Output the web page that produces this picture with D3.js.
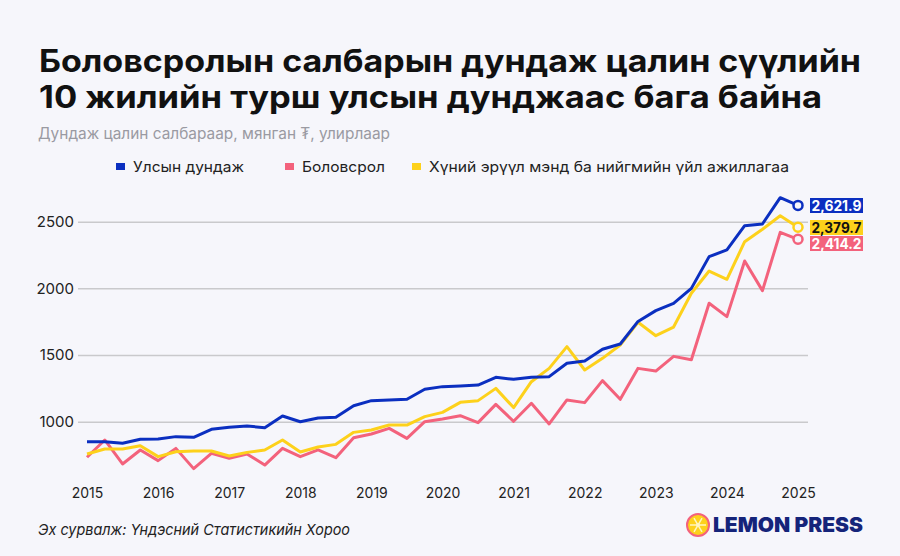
<!DOCTYPE html>
<html>
<head>
<meta charset="utf-8">
<script src="https://cdn.jsdelivr.net/npm/d3@7"></script>
<style>
  body { margin: 0; background: #f6f6fb; }
  svg { display: block; font-family: Inter, Roboto, "Noto Sans", sans-serif; }
</style>
</head>
<body>
<div id="chart"></div>
<script>
// quarterly averages, 2015 Q1 .. 2025 Q1 (thousand ₮)
const quarters = d3.range(41).map(i => 2015 + i / 4);

const national = [850, 850, 838, 868, 870, 888, 883, 943, 958, 968, 955, 1043, 1000, 1028, 1033,
  1120, 1158, 1163, 1168, 1243, 1263, 1268, 1275, 1333, 1318, 1334, 1338, 1438, 1455, 1543, 1583,
  1752, 1833, 1888, 2000, 2238, 2288, 2470, 2483, 2680, 2622];

const education = [733, 863, 683, 788, 708, 800, 648, 763, 725, 758, 675, 800, 738, 788, 730,
  880, 908, 950, 875, 1000, 1020, 1045, 993, 1130, 1003, 1138, 983, 1163, 1143, 1308, 1168,
  1400, 1380, 1490, 1465, 1888, 1788, 2205, 1983, 2420, 2368];

const health = [758, 795, 795, 820, 738, 775, 780, 780, 743, 770, 788, 863, 773, 810, 830,
  920, 938, 975, 975, 1038, 1070, 1145, 1158, 1250, 1106, 1300, 1400, 1563, 1388, 1475, 1575,
  1746, 1645, 1710, 1963, 2130, 2068, 2350, 2443, 2545, 2458];

const seriesNames = ["Улсын дундаж", "Боловсрол", "Хүний эрүүл мэнд ба нийгмийн үйл ажиллагаа"];
const endLabels = ["2,621.9", "2,414.2", "2,379.7"];
const yearTicks = d3.range(2015, 2026);
const yTicks = [1000, 1500, 2000, 2500];

const colors = ["#0b2fc0", "#f3627c", "#fdd11b"];
const labelText = ["#fff", "#fff", "#111"];

const W = 900, H = 556;
const svg = d3.select("#chart").append("svg")
  .attr("width", W).attr("height", H);

svg.append("rect").attr("width", W).attr("height", H).attr("fill", "#f6f6fb");

// title
const title = svg.append("text")
  .attr("font-size", 31).attr("font-weight", 700).attr("fill", "#111");
title.append("tspan").attr("x", 39).attr("y", 72)
  .attr("textLength", 822).attr("lengthAdjust", "spacingAndGlyphs")
  .text("Боловсролын салбарын дундаж цалин сүүлийн");
title.append("tspan").attr("x", 39).attr("y", 108)
  .attr("textLength", 783).attr("lengthAdjust", "spacingAndGlyphs")
  .text("10 жилийн турш улсын дунджаас бага байна");

svg.append("text")
  .attr("x", 38).attr("y", 139)
  .attr("font-size", 15.5).attr("fill", "#9a9aa2")
  .attr("textLength", 352).attr("lengthAdjust", "spacingAndGlyphs")
  .text("Дундаж цалин салбараар, мянган ₮, улирлаар");

// legend
const legendX = [116, 285, 412];
const legendLen = [111, 83, 360];
const legend = svg.append("g").selectAll("g")
  .data(seriesNames)
  .join("g")
    .attr("transform", (d, i) => `translate(${legendX[i]}, 167)`);
legend.append("rect")
  .attr("x", 0).attr("y", -4).attr("width", 9).attr("height", 7)
  .attr("fill", (d, i) => colors[i]);
legend.append("text")
  .attr("x", 17).attr("y", 5)
  .attr("font-size", 14.5).attr("fill", "#222")
  .attr("textLength", (d, i) => legendLen[i]).attr("lengthAdjust", "spacingAndGlyphs")
  .text(d => d);

// scales
const x = d3.scaleLinear()
  .domain([2015, 2025])
  .range([87, 798]);

const y = d3.scaleLinear()
  .domain([1000, 2500])
  .range([421.7, 221.7]);

// gridlines + y labels
const yAxis = svg.append("g")
  .attr("transform", "translate(78, 0)")
  .call(d3.axisLeft(y).tickValues(yTicks).tickSize(-730).tickPadding(4).tickFormat(d3.format("d")));
yAxis.select(".domain").remove();
yAxis.selectAll("line").attr("stroke", "#c9c9cc").attr("stroke-width", 1.5);
yAxis.selectAll("text")
  .attr("font-family", "Inter, Roboto, sans-serif")
  .attr("font-size", 15).attr("fill", "#222");

// x labels
const xAxis = svg.append("g")
  .attr("transform", "translate(0, 482)")
  .call(d3.axisBottom(x).tickValues(yearTicks).tickSize(0).tickPadding(6).tickFormat(d3.format("d")));
xAxis.select(".domain").remove();
xAxis.selectAll("text")
  .attr("font-family", "Inter, Roboto, sans-serif")
  .attr("font-size", 14).attr("fill", "#222");

// lines
const allSeries = [national, education, health];
const line = d3.line()
  .x((d, i) => x(quarters[i]))
  .y(d => y(d));

// draw national last so it sits on top where they cross
const order = [1, 2, 0];
order.forEach(s => {
  svg.append("path")
    .datum(allSeries[s])
    .attr("fill", "none")
    .attr("stroke", colors[s])
    .attr("stroke-width", 3)
    .attr("stroke-linejoin", "round")
    .attr("d", line);
});

// end markers
order.forEach(s => {
  const vals = allSeries[s];
  svg.append("circle")
    .attr("cx", x(quarters[vals.length - 1]))
    .attr("cy", y(vals[vals.length - 1]))
    .attr("r", 4.5)
    .attr("fill", "#f6f6fb")
    .attr("stroke", colors[s])
    .attr("stroke-width", 2.5);
});

// value boxes (blue, then yellow, then pink below)
const boxY = [198, 236, 220];
endLabels.forEach((lab, i) => {
  svg.append("rect")
    .attr("x", 810).attr("y", boxY[i])
    .attr("width", 53).attr("height", 15)
    .attr("fill", colors[i]);
  svg.append("text")
    .attr("x", 836.5).attr("y", boxY[i] + 12.5)
    .attr("text-anchor", "middle")
    .attr("font-size", 14).attr("font-weight", 700)
    .attr("fill", labelText[i])
    .attr("textLength", 50).attr("lengthAdjust", "spacingAndGlyphs")
    .text(lab);
});

// source
svg.append("text")
  .attr("x", 38).attr("y", 535)
  .attr("font-size", 15).attr("font-style", "italic").attr("fill", "#222")
  .attr("textLength", 312).attr("lengthAdjust", "spacingAndGlyphs")
  .text("Эх сурвалж: Үндэсний Статистикийн Хороо");

// logo
const logo = svg.append("g").attr("transform", "translate(698, 525)");
logo.append("circle").attr("r", 11).attr("fill", "#fdd11b")
  .attr("stroke", "#f3627c").attr("stroke-width", 2);
d3.range(6).forEach(k => {
  const a = k * Math.PI / 3;
  logo.append("line")
    .attr("x1", 0).attr("y1", 0)
    .attr("x2", 8 * Math.cos(a)).attr("y2", 8 * Math.sin(a))
    .attr("stroke", "#fff5c0").attr("stroke-width", 1.5);
});
logo.append("circle").attr("r", 2).attr("fill", "#fff5c0");
svg.append("text")
  .attr("x", 713).attr("y", 532)
  .attr("font-size", 20).attr("font-weight", 900).attr("fill", "#15247a")
  .attr("textLength", 150).attr("lengthAdjust", "spacingAndGlyphs")
  .text("LEMON PRESS");
</script>
</body>
</html>
